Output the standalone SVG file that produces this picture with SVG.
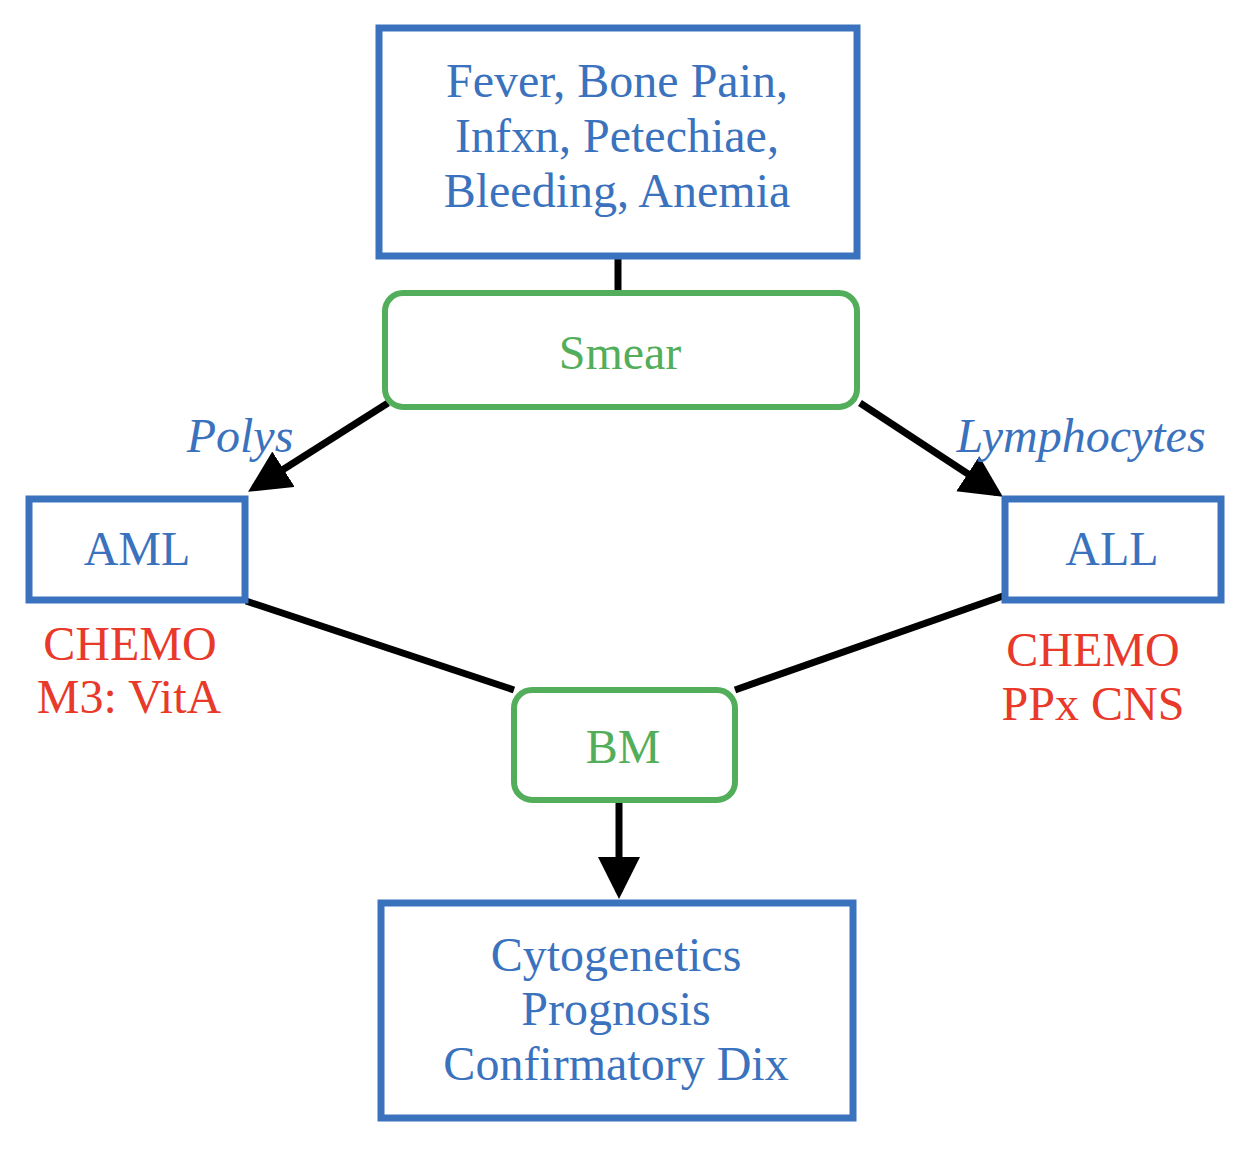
<svg xmlns="http://www.w3.org/2000/svg" width="1250" height="1152" viewBox="0 0 1250 1152">
<style>
.box{fill:#fff;stroke:#3A72BE;stroke-width:7}
.gbox{fill:#fff;stroke:#52AE5A;stroke-width:6}
.t{font-family:"Liberation Serif","Times New Roman",serif;font-size:48px;text-anchor:middle}
.b{fill:#3A72BE}
.g{fill:#52AE5A}
.r{fill:#E8392A}
.i{font-style:italic}
.c{stroke:#000;stroke-width:7;fill:none}
</style>
<defs>
<marker id="ah" markerWidth="6" markerHeight="6" refX="5" refY="3" orient="auto" markerUnits="strokeWidth">
<path d="M0,0 L6,3 L0,6 z" fill="#000"/>
</marker>
</defs>
<rect width="1250" height="1152" fill="#fff"/>
<g id="connectors">
<line class="c" x1="618" y1="258" x2="618" y2="293"/>
<line class="c" x1="388" y1="403" x2="254" y2="488" marker-end="url(#ah)"/>
<line class="c" x1="860" y1="403" x2="997" y2="493" marker-end="url(#ah)"/>
<line class="c" x1="246" y1="601" x2="514" y2="690"/>
<line class="c" x1="1003" y1="596" x2="735" y2="690"/>
<line class="c" x1="619" y1="801" x2="619" y2="892" marker-end="url(#ah)"/>
</g>
<g id="top">
<rect class="box" x="379" y="28" width="478" height="228"/>
<text class="t b" x="617" y="97">Fever, Bone Pain,</text>
<text class="t b" x="617" y="152">Infxn, Petechiae,</text>
<text class="t b" x="617" y="207">Bleeding, Anemia</text>
</g>
<g id="smear">
<rect class="gbox" x="385" y="293" width="472" height="114" rx="18"/>
<text class="t g" x="620" y="369">Smear</text>
</g>
<g id="polys-label"><text class="t b i" x="240" y="452">Polys</text></g>
<g id="lymph-label"><text class="t b i" x="1081" y="452">Lymphocytes</text></g>
<g id="aml">
<rect class="box" x="29" y="499" width="216" height="101"/>
<text class="t b" x="137" y="565">AML</text>
</g>
<g id="all">
<rect class="box" x="1005" y="499" width="216" height="101"/>
<text class="t b" x="1112" y="565">ALL</text>
</g>
<g id="aml-tx">
<text class="t r" x="130" y="660">CHEMO</text>
<text class="t r" x="129" y="713">M3: VitA</text>
</g>
<g id="all-tx">
<text class="t r" x="1093" y="666">CHEMO</text>
<text class="t r" x="1093" y="720">PPx CNS</text>
</g>
<g id="bm">
<rect class="gbox" x="514" y="690" width="221" height="110" rx="18"/>
<text class="t g" x="623" y="763">BM</text>
</g>
<g id="bottom">
<rect class="box" x="381" y="903" width="472" height="215"/>
<text class="t b" x="616" y="971">Cytogenetics</text>
<text class="t b" x="616" y="1025">Prognosis</text>
<text class="t b" x="616" y="1080">Confirmatory Dix</text>
</g>
</svg>
